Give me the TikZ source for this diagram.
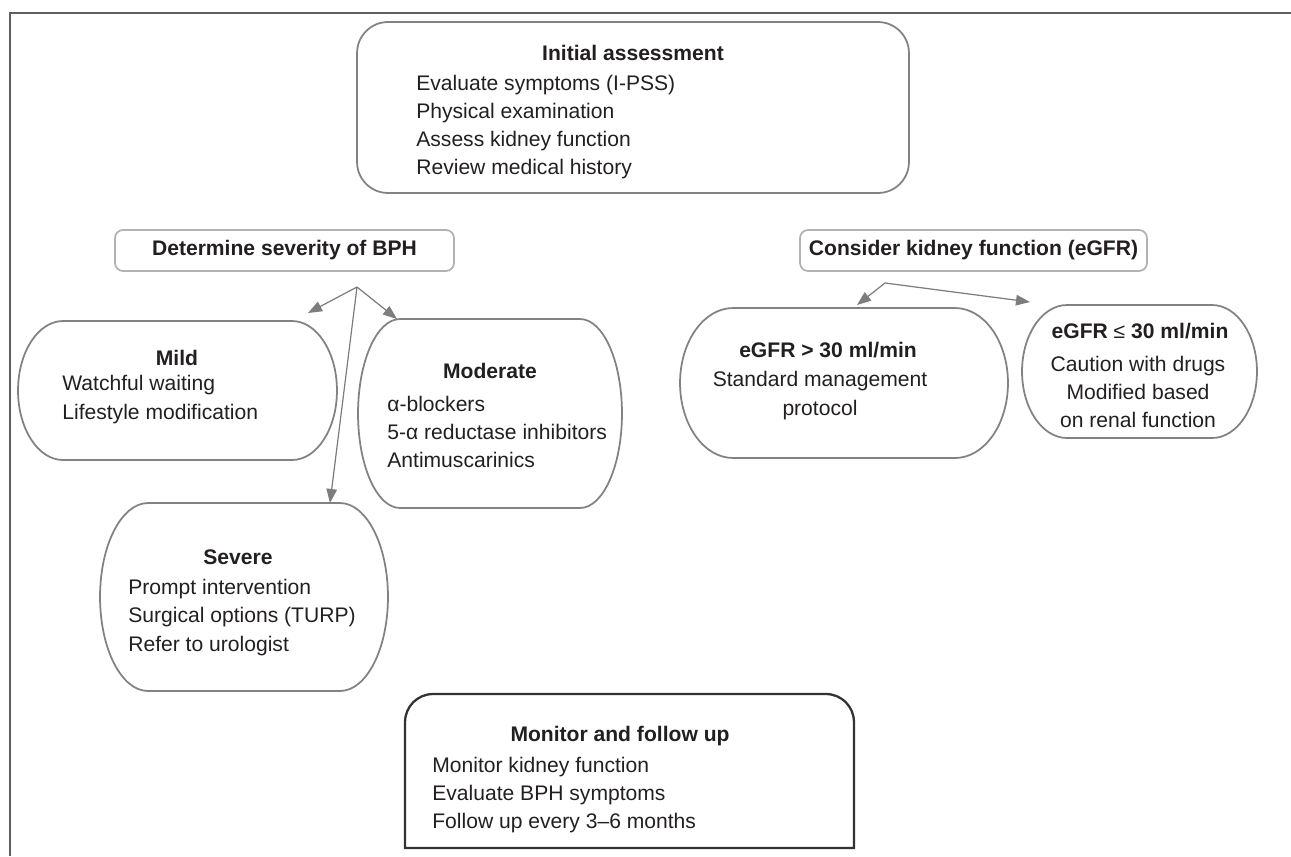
\documentclass[tikz,border=0pt]{standalone}
\usepackage{xcolor}
\usepackage{fontspec}
\setmainfont{Liberation Sans}
\usepackage{tikz}
\usetikzlibrary{arrows.meta, positioning}
\definecolor{framegray}{RGB}{95,95,95}
\definecolor{boxgray}{RGB}{130,130,130}
\definecolor{palegray}{RGB}{178,178,178}
\definecolor{arrowgray}{RGB}{125,125,125}
\definecolor{darkline}{RGB}{50,50,50}
\definecolor{ink}{RGB}{35,31,32}
\tikzset{
  txt/.style={text=ink, inner sep=0pt, font=\fontsize{12}{16}\selectfont},
  head/.style={txt, font=\fontsize{12}{16}\selectfont\bfseries},
  body/.style={txt, align=left, anchor=west},
  cbody/.style={txt, align=center},
  ovalline/.style={draw=boxgray, line width=1pt},
  ovalbox/.style={minimum width=#1, inner sep=0pt, outer sep=0pt},
  fork/.style={draw=arrowgray, line width=0.7pt, -{Triangle[length=8pt, width=6pt]}},
}
% box with elliptic ends: node name, x radius, y radius
\newcommand{\ovalframe}[3]{%
  \draw[ovalline] ([xshift=#2]#1.north west) -- ([xshift=-#2]#1.north east)
    arc[start angle=90, end angle=-90, x radius=#2, y radius=#3]
    -- ([xshift=#2]#1.south west)
    arc[start angle=270, end angle=90, x radius=#2, y radius=#3] -- cycle;}

\begin{document}
\begin{tikzpicture}[x=0.02cm, y=-0.02cm]
\useasboundingbox (0,0) rectangle (1291,856);
\draw[framegray, line width=1.1pt] (1291,13) -- (10,13) -- (10,856);

% top level
\node[draw=boxgray, line width=1pt, rounded corners=0.62cm, minimum width=11.04cm,
  minimum height=3.42cm, outer sep=0pt] (init) at (633,107.5) {};
\node[head] (inittitle) at (633,53) {Initial assessment};
\node[body] (inittext) at (416,127) {Evaluate symptoms (I-PSS)\\Physical examination\\Assess kidney function\\Review medical history};

\node[draw=palegray, line width=1pt, rounded corners=0.16cm, minimum width=6.78cm,
  minimum height=0.82cm, head, outer sep=0pt] (sev) at (284.5,250.5) {Determine severity of BPH};
\node[draw=palegray, line width=1pt, rounded corners=0.16cm, minimum width=6.94cm,
  minimum height=0.82cm, head, outer sep=0pt] (kid) at (973.5,250.5) {Consider kidney function (eGFR)};

% severity branches
\node[ovalbox=6.38cm, minimum height=2.78cm] (mild) at (177.5,390.5) {};
\ovalframe{mild}{0.9cm}{1.39cm}
\node[head] (mildtitle) at (177,358) {Mild};
\node[body] (mildtext) at (62,399.5) {Watchful waiting\\Lifestyle modification};

\node[ovalbox=5.28cm, minimum height=3.78cm] (mod) at (490,413.5) {};
\ovalframe{mod}{0.84cm}{1.89cm}
\node[head] (modtitle) at (490,371) {Moderate};
\node[body] (modtext) at (387,432) {α-blockers\\5-α reductase inhibitors\\Antimuscarinics};

\node[ovalbox=5.76cm, minimum height=3.76cm] (severe) at (244,597) {};
\ovalframe{severe}{0.96cm}{1.88cm}
\node[head] (severetitle) at (238,557) {Severe};
\node[body] (severetext) at (128,617.5) {Prompt intervention\\Surgical options (TURP)\\Refer to urologist};

% kidney branches
\node[ovalbox=6.56cm, minimum height=3.0cm] (hi) at (844,383) {};
\ovalframe{hi}{1.06cm}{1.5cm}
\node[head] (hititle) at (828,350) {eGFR > 30 ml/min};
\node[cbody] (hitext) at (820,395.5) {Standard management\\protocol};

\node[ovalbox=4.7cm, minimum height=2.66cm] (lo) at (1139.5,371.5) {};
\ovalframe{lo}{0.9cm}{1.33cm}
\node[head] (lotitle) at (1140,331) {eGFR {\mdseries ≤} 30 ml/min};
\node[cbody] (lotext) at (1138,392) {Caution with drugs\\Modified based\\on renal function};

% follow up
\node[minimum width=8.98cm, minimum height=3.08cm, inner sep=0pt, outer sep=0pt] (mon) at (629.5,771) {};
\draw[darkline, line width=1.3pt] (mon.south west) -- ([yshift=-0.56cm]mon.north west)
  arc[start angle=180, end angle=90, radius=0.56cm] -- ([xshift=-0.56cm]mon.north east)
  arc[start angle=90, end angle=0, radius=0.56cm] -- (mon.south east) -- cycle;
\node[head] (montitle) at (620,736) {Monitor and follow up};
\node[body] (montext) at (432,795) {Monitor kidney function\\Evaluate BPH symptoms\\Follow up every 3--6 months};

% connectors
\coordinate (sevfork) at (357,287);
\coordinate (kidfork) at (885,283);
\draw[fork] (sevfork) -- ([xshift=-0.58cm, yshift=0.16cm]mild.north east);
\draw[fork] (sevfork) -- ([xshift=0.78cm]mod.north west);
\draw[fork] (sevfork) -- ([xshift=1.72cm]severe.north);
\draw[fork] (kidfork) -- ([xshift=0.26cm, yshift=0.06cm]hi.north);
\draw[fork] (kidfork) -- ([xshift=0.16cm, yshift=0.06cm]lo.north west);
\end{tikzpicture}
\end{document}
